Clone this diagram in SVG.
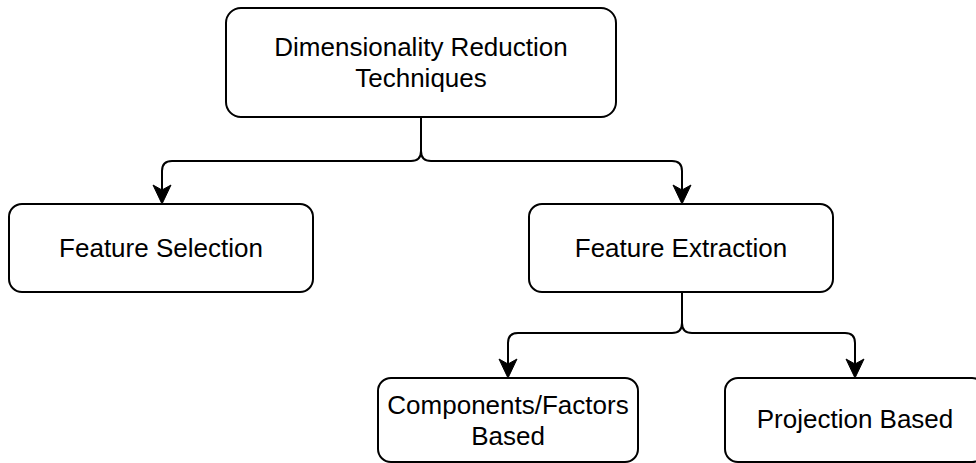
<svg xmlns="http://www.w3.org/2000/svg" width="976" height="463" viewBox="0 0 976 463">
<style>
.box{fill:#fff;stroke:#000;stroke-width:2}
.lbl{font-family:"Liberation Sans",Helvetica,Arial,sans-serif;font-size:26px;fill:#000;text-anchor:middle}
.edge{fill:none;stroke:#000;stroke-width:2}
</style>
<defs>
<marker id="arr" markerUnits="userSpaceOnUse" viewBox="-1 -10 22 20" markerWidth="22" markerHeight="20" refX="5" refY="0" orient="auto">
<path d="M19,0 L0,-9 L5,0 L0,9 Z" fill="#000" stroke="#000" stroke-width="1" stroke-linejoin="miter"/>
</marker>
</defs>
<rect width="976" height="463" fill="#fff"/>
<g id="connectors">
<path class="edge" marker-end="url(#arr)" d="M421,117 V151 Q421,161 411,161 H172 Q162,161 162,171 V190"/>
<path class="edge" marker-end="url(#arr)" d="M421,117 V151 Q421,161 431,161 H672 Q682,161 682,171 V190"/>
<path class="edge" marker-end="url(#arr)" d="M682,292 V323 Q682,333 672,333 H518 Q508,333 508,343 V364"/>
<path class="edge" marker-end="url(#arr)" d="M682,292 V323 Q682,333 692,333 H845 Q855,333 855,343 V364"/>
</g>
<g id="dimensionality-reduction">
<rect class="box" x="226" y="8" width="390" height="109" rx="15"/>
<text class="lbl" x="421" y="56">Dimensionality Reduction</text>
<text class="lbl" x="421" y="87">Techniques</text>
</g>
<g id="feature-selection">
<rect class="box" x="9" y="204" width="304" height="88" rx="13"/>
<text class="lbl" x="161" y="257">Feature Selection</text>
</g>
<g id="feature-extraction">
<rect class="box" x="529" y="204" width="304" height="88" rx="13"/>
<text class="lbl" x="681" y="257">Feature Extraction</text>
</g>
<g id="components-factors">
<rect class="box" x="378" y="378" width="260" height="84" rx="13"/>
<text class="lbl" x="508" y="414">Components/Factors</text>
<text class="lbl" x="508" y="445">Based</text>
</g>
<g id="projection-based">
<rect class="box" x="725" y="378" width="260" height="84" rx="13"/>
<text class="lbl" x="855" y="428">Projection Based</text>
</g>
</svg>
